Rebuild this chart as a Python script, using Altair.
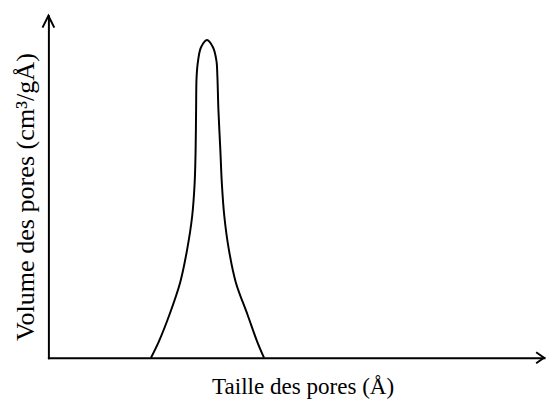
import altair as alt
import pandas as pd

# Pore size distribution curve (arbitrary units)
pore_size = [20.7, 22.3, 24.4, 26.6, 28.0, 29.0, 29.5, 29.7, 29.8, 29.9, 30.2, 30.8,
             32.0,
             33.2, 33.9, 34.1, 34.3, 34.7, 35.0, 35.5, 36.4, 37.8, 40.2, 42.1, 43.5]
pore_volume = [0.0, 4.8, 12.5, 22.1, 31.7, 41.3, 50.9, 60.5, 72.6, 82.1, 86.9, 90.8,
               92.9,
               90.8, 86.9, 82.1, 72.6, 60.5, 50.9, 41.3, 31.7, 22.1, 12.5, 4.8, 0.0]

x_title = "Taille des pores (Å)"
y_title = "Volume des pores (cm³/gÅ)"

curve = pd.DataFrame({"x": pore_size, "y": pore_volume, "i": range(len(pore_size))})
arrow_up = pd.DataFrame({"x": [0], "y": [100]})
arrow_right = pd.DataFrame({"x": [100], "y": [0]})

xs = alt.Scale(domain=[0, 100], nice=False, zero=False)
ys = alt.Scale(domain=[0, 100], nice=False, zero=False)

font = "Liberation Serif"

x_axis = alt.Axis(title=x_title, domain=True, domainColor="black", domainWidth=2,
                  ticks=False, labels=False, grid=False,
                  titleFont=font, titleFontSize=23.4, titleFontWeight="normal",
                  titleColor="black", titleX=258, titleY=36,
                  titleBaseline="alphabetic", titleAnchor="middle")
y_axis = alt.Axis(title=y_title, domain=True, domainColor="black", domainWidth=2,
                  ticks=False, labels=False, grid=False,
                  titleFont=font, titleFontSize=26.5, titleFontWeight="normal",
                  titleColor="black", titleX=-15, titleY=183.5,
                  titleBaseline="alphabetic", titleAngle=270, titleAlign="center")

line = alt.Chart(curve).mark_line(color="black", strokeWidth=2, interpolate="catmull-rom").encode(
    x=alt.X("x:Q", scale=xs, axis=x_axis),
    y=alt.Y("y:Q", scale=ys, axis=y_axis),
    order="i:Q",
)

up = alt.Chart(arrow_up).mark_point(
    shape="M-0.5,1L0,0L0.5,1", filled=False, color="black", strokeWidth=2,
    size=576, opacity=1, clip=False,
).encode(x=alt.X("x:Q", scale=xs), y=alt.Y("y:Q", scale=ys))

right = alt.Chart(arrow_right).mark_point(
    shape="M-1,-0.7L0,0L-1,0.7", filled=False, color="black", strokeWidth=2,
    size=256, opacity=1, clip=False,
).encode(x=alt.X("x:Q", scale=xs), y=alt.Y("y:Q", scale=ys))

chart = alt.layer(line, up, right).properties(
    width=503, height=347,
    autosize=alt.AutoSizeParams(type="none"),
    padding={"left": 41, "top": 5, "right": 2, "bottom": 41},
).configure_view(stroke=None).configure_axis(domainCap="square")

chart.save("out.html", embed_options={"renderer": "svg", "actions": False})
